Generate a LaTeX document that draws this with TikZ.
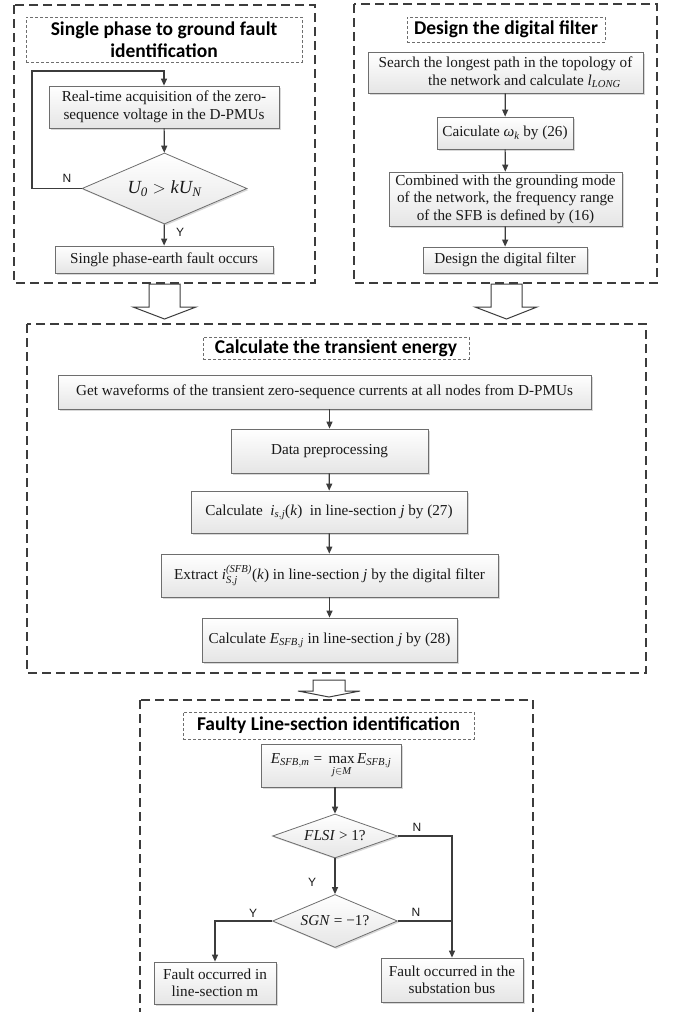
\documentclass[tikz,border=0pt]{standalone}
\usepackage{amsmath}
\usepackage{fontspec}
\setmainfont{Liberation Serif}
\newfontfamily\titlefont{Carlito}
\newfontfamily\labfont{Liberation Sans}
\usetikzlibrary{shapes.geometric,shadows,arrows.meta,calc}
\definecolor{bordc}{RGB}{110,110,110}
\definecolor{linec}{RGB}{60,60,60}
\definecolor{txtc}{RGB}{25,25,25}
\newcommand{\vi}[1]{\text{\itshape #1}}
\tikzset{
  boxbase/.style={draw=bordc, line width=0.8pt, top color=white, bottom color=gray!20,
    drop shadow={shadow xshift=1.5pt, shadow yshift=-1.5pt, opacity=0.3},
    align=center, text=txtc, inner sep=0pt},
  proc/.style={boxbase, rectangle, font=\fontsize{15.2}{17.5}\selectfont},
  dec/.style={boxbase, diamond, aspect=2.4, font=\fontsize{15.2}{17.5}\selectfont},
  ttl/.style={rectangle, draw=bordc, line width=0.6pt, dash pattern=on 3pt off 2pt,
    align=center, text=black, inner sep=0pt, font=\titlefont\bfseries\fontsize{19.5}{21.5}\selectfont},
  frame/.style={draw=linec, line width=1.2pt, dash pattern=on 9pt off 5pt},
  arr/.style={draw=linec, line width=1.2pt, -{Triangle[length=7pt,width=6pt]}},
  lin/.style={draw=linec, line width=1.2pt},
  lab/.style={font=\labfont\fontsize{12}{14}\selectfont, text=txtc, inner sep=0pt},
  hollow/.style={draw=linec, line width=1pt, fill=white, line join=miter}
}
\begin{document}
\begin{tikzpicture}[x=1pt,y=-1pt]
\clip (0,0) rectangle (673,1012);
\fill[white] (0,0) rectangle (673,1012);

% ---------- top left ----------
\draw[frame] (14,5) rectangle (315,283);
\node[ttl, minimum width=276, minimum height=45] (t1) at (164,39.5) {Single phase to ground fault\\identification};
\node[proc, minimum width=230, minimum height=42] (r1) at (164,107) {Real-time acquisition of the zero-\\sequence voltage in the D-PMUs};
\node[dec, minimum width=165, minimum height=71, font=\fontsize{18.5}{20}\selectfont] (d1) at (164.5,188.5)
  {$\vi{U}_{\vi{0}} > \vi{kU}_{\vi{N}}$};
\node[proc, minimum width=218, minimum height=27] (r2) at (164,259.5) {Single phase-earth fault occurs};
\coordinate (lp) at (32,71);
\draw[arr] (r1) -- (d1);
\draw[arr] (d1) -- (r2);
\draw[arr] (d1.west) -| (lp) -| (r1.north);
\node[lab] (n1) at (67,178) {N};
\node[lab] (y1) at (180,232) {Y};

% ---------- top right ----------
\draw[frame] (354,4) rectangle (657,283);
\node[ttl, minimum width=198, minimum height=25] (t2) at (506,29.5) {Design the digital filter};
\node[proc, minimum width=275, minimum height=41] (a1) at (505.5,72.5)
  {Search the longest path in the topology of\\\hspace*{2.5em}the network and calculate $\vi{l}_{\vi{LONG}}$};
\node[proc, minimum width=136, minimum height=32] (a2) at (505,133) {Caiculate $\vi{ω}_{\vi{k}}$ by (26)};
\node[proc, minimum width=233, minimum height=54] (a3) at (505.5,199)
  {Combined with the grounding mode\\of the network, the frequency range\\of the SFB is defined by (16)};
\node[proc, minimum width=164, minimum height=26] (a4) at (505,260) {Design the digital filter};
\draw[arr] (a1) -- (a2);
\draw[arr] (a2) -- (a3);
\draw[arr] (a3) -- (a4);

% ---------- hollow arrows ----------
\draw[hollow] (149,284) -- (149,307) -- (133,307) -- (164.5,319) -- (196,307) -- (180,307) -- (180,284) -- cycle;
\draw[hollow] (491,284) -- (491,307) -- (475,307) -- (506.5,319) -- (537,307) -- (522,307) -- (522,284) -- cycle;

% ---------- middle ----------
\draw[frame] (27,324) rectangle (646,673);
\node[ttl, minimum width=266, minimum height=22] (t3) at (336,348) {Calculate the transient energy};
\node[proc, minimum width=533, minimum height=34] (m1) at (324.5,392)
  {Get waveforms of the transient zero-sequence currents at all nodes from D-PMUs};
\node[proc, minimum width=197, minimum height=44] (m2) at (329.5,451) {Data preprocessing};
\node[proc, minimum width=276, minimum height=42] (m3) at (329,512)
  {Calculate\enspace $\vi{i}_{\vi{s},\vi{j}}$(\textit{k})\enspace in line-section \textit{j} by (27)};
\node[proc, minimum width=337, minimum height=43] (m4) at (329.5,575.5)
  {Extract $\vi{i}^{\vi{(SFB)}}_{\vi{S},\vi{j}}$(\textit{k}) in line-section \textit{j} by the digital filter};
\node[proc, minimum width=255, minimum height=44] (m5) at (329.5,640)
  {Calculate $\vi{E}_{\vi{SFB},\vi{j}}$ in line-section \textit{j} by (28)};
\draw[arr] (m1.south -| m2.north) -- (m2);
\draw[arr] (m2) -- (m3);
\draw[arr] (m3) -- (m4);
\draw[arr] (m4) -- (m5);

\draw[hollow] (313,680) -- (313,691) -- (298,691) -- (329,697) -- (360,691) -- (345,691) -- (345,680) -- cycle;

% ---------- bottom ----------
\draw[frame] (140,700) rectangle (533,1040);
\node[ttl, minimum width=291, minimum height=27] (t4) at (328.5,725.5) {Faulty Line-section identification};
\node[proc, minimum width=140, minimum height=43] (b1) at (331,765.5)
  {$\vi{E}_{\vi{SFB},\vi{m}}\;\text{=}\;\mathop{\text{max}}\limits_{\raisebox{-2pt}{$\scriptstyle\vi{j}\in\vi{M}$}}\vi{E}_{\vi{SFB},\vi{j}}$};
\node[dec, minimum width=125, minimum height=44] (f1) at (335,836) {\textit{FLSI} > 1?};
\node[dec, minimum width=125, minimum height=53] (f2) at (335,921) {\textit{SGN} = −1?};
\node[proc, minimum width=122, minimum height=42] (lb) at (215,983) {Fault occurred in\\line-section m};
\node[proc, minimum width=142, minimum height=44] (rb) at (452,980) {Fault occurred in the\\substation bus};
\draw[arr] (b1.south -| f1.north) -- (f1.north);
\draw[arr] (f1) -- (f2);
\draw[arr] (f1.east) -| (rb.north);
\draw[lin] (f2.east) -- (f2.east -| rb.north);
\draw[arr] (f2.west) -| (lb.north);
\node[lab] (n2) at (417,827) {N};
\node[lab] (n3) at (416,912) {N};
\node[lab] (y2) at (312,882) {Y};
\node[lab] (y3) at (253,913) {Y};
\end{tikzpicture}
\end{document}
